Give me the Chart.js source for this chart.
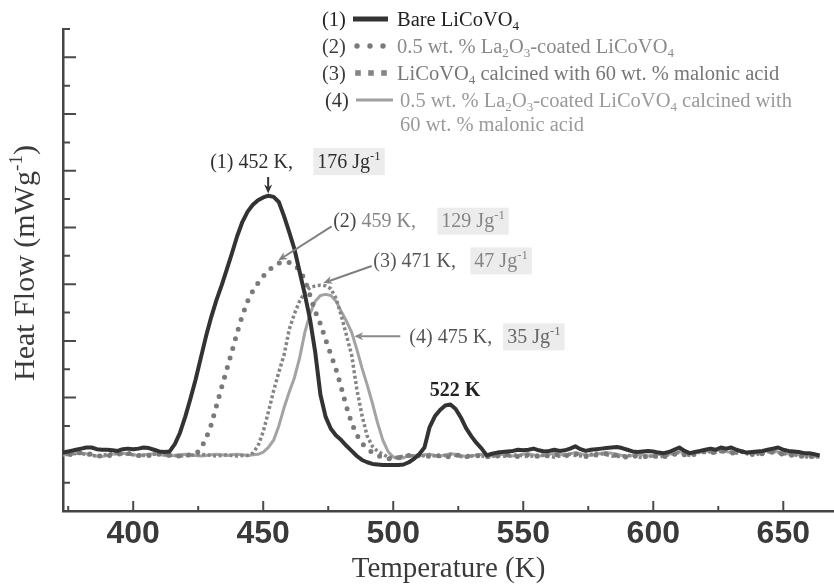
<!DOCTYPE html>
<html>
<head>
<meta charset="utf-8">
<title>DSC heat flow of LiCoVO4 samples</title>
<script src="https://cdn.jsdelivr.net/npm/chart.js@4.4.1/dist/chart.umd.min.js"></script>
<style>
  html, body { margin: 0; padding: 0; background: #fff; }
  #wrap { width: 834px; height: 587px; position: relative; }
</style>
</head>
<body>
<div id="wrap"><canvas id="chart"></canvas></div>
<script>
// temperature (K), sampled every 2 K
const temperature = [
  372, 374, 376, 378, 380, 382, 384, 386, 388, 390,
  392, 394, 396, 398, 400, 402, 404, 406, 408, 410,
  412, 414, 416, 418, 420, 422, 424, 426, 428, 430,
  432, 434, 436, 438, 440, 442, 444, 446, 448, 450,
  452, 454, 456, 458, 460, 462, 464, 466, 468, 470,
  472, 474, 476, 478, 480, 482, 484, 486, 488, 490,
  492, 494, 496, 498, 500, 502, 504, 506, 508, 510,
  512, 514, 516, 518, 520, 522, 524, 526, 528, 530,
  532, 534, 536, 538, 540, 542, 544, 546, 548, 550,
  552, 554, 556, 558, 560, 562, 564, 566, 568, 570,
  572, 574, 576, 578, 580, 582, 584, 586, 588, 590,
  592, 594, 596, 598, 600, 602, 604, 606, 608, 610,
  612, 614, 616, 618, 620, 622, 624, 626, 628, 630,
  632, 634, 636, 638, 640, 642, 644, 646, 648, 650,
  652, 654, 656, 658, 660, 662, 664
];

// (1) bare LiCoVO4
const bareLiCoVO4 = [
  0.02, 0.04, 0.06, 0.08, 0.10, 0.12, 0.12, 0.09, 0.08, 0.08,
  0.07, 0.06, 0.09, 0.10, 0.09, 0.10, 0.12, 0.11, 0.08, 0.05,
  0.04, 0.05, 0.18, 0.38, 0.66, 0.98, 1.32, 1.70, 2.08, 2.42,
  2.72, 2.98, 3.26, 3.55, 3.85, 4.10, 4.28, 4.40, 4.48, 4.53,
  4.56, 4.54, 4.45, 4.20, 3.92, 3.62, 3.22, 2.82, 2.38, 1.80,
  1.05, 0.66, 0.45, 0.33, 0.25, 0.15, 0.06, -0.03, -0.10, -0.14,
  -0.17, -0.18, -0.19, -0.19, -0.19, -0.19, -0.18, -0.14, -0.08, 0.00,
  0.12, 0.48, 0.67, 0.78, 0.86, 0.88, 0.80, 0.65, 0.46, 0.32,
  0.20, 0.10, -0.02, 0.01, 0.03, 0.04, 0.05, 0.06, 0.08, 0.07,
  0.08, 0.10, 0.07, 0.05, 0.06, 0.08, 0.06, 0.07, 0.10, 0.14,
  0.09, 0.06, 0.08, 0.09, 0.10, 0.11, 0.12, 0.13, 0.11, 0.08,
  0.05, 0.04, 0.05, 0.06, 0.05, 0.03, 0.02, 0.04, 0.08, 0.12,
  0.06, 0.02, 0.04, 0.06, 0.08, 0.10, 0.08, 0.12, 0.10, 0.12,
  0.08, 0.05, 0.03, 0.04, 0.05, 0.06, 0.08, 0.10, 0.12, 0.08,
  0.06, 0.05, 0.04, 0.02, 0.02, 0.00, -0.02
];

// (2) 0.5 wt.% La2O3-coated LiCoVO4
const coatedLiCoVO4 = [
  -0.04, -0.02, 0.00, 0.02, 0.03, 0.02, 0.00, -0.02, -0.04, -0.03,
  -0.01, 0.00, 0.02, 0.02, 0.00, -0.02, -0.03, -0.02, -0.01, 0.00,
  -0.01, -0.02, -0.03, -0.03, -0.02, -0.01, 0.00, 0.10, 0.28, 0.52,
  0.85, 1.18, 1.50, 1.82, 2.15, 2.45, 2.70, 2.88, 3.02, 3.14,
  3.24, 3.32, 3.37, 3.39, 3.38, 3.35, 3.24, 3.08, 2.80, 2.52,
  2.30, 2.02, 1.76, 1.50, 1.18, 0.84, 0.55, 0.34, 0.19, 0.10,
  0.03, -0.02, -0.06, -0.08, -0.08, -0.06, -0.04, -0.02, 0.00, -0.02,
  -0.04, -0.03, -0.02, -0.03, -0.05, -0.04, -0.02, -0.01, -0.03, -0.04,
  -0.03, -0.02, -0.04, -0.05, -0.03, -0.02, -0.01, -0.03, -0.04, -0.02,
  -0.01, -0.02, -0.04, -0.03, -0.02, 0.00, -0.02, -0.03, -0.01, 0.01,
  -0.02, -0.04, -0.03, -0.01, 0.00, 0.01, 0.00, -0.02, -0.04, -0.05,
  -0.04, -0.02, -0.03, -0.05, -0.04, -0.02, -0.04, -0.03, 0.00, 0.02,
  -0.01, -0.03, 0.00, 0.03, 0.05, 0.02, 0.04, 0.06, 0.04, 0.02,
  0.03, 0.05, 0.02, 0.00, -0.01, 0.01, 0.03, 0.04, 0.02, 0.00,
  -0.01, -0.02, -0.03, -0.04, -0.03, -0.05, -0.06
];

// (3) LiCoVO4 calcined with 60 wt.% malonic acid
const malonicLiCoVO4 = [
  -0.03, -0.01, 0.01, 0.02, 0.01, 0.00, -0.02, -0.03, -0.02, 0.00,
  0.01, 0.02, 0.01, 0.00, -0.01, -0.03, -0.02, -0.01, 0.00, 0.01,
  0.00, -0.01, -0.02, -0.03, -0.02, -0.02, -0.01, 0.00, -0.01, -0.02,
  -0.03, -0.02, -0.01, -0.02, -0.03, -0.02, -0.02, 0.02, 0.15, 0.40,
  0.75, 1.12, 1.45, 1.75, 2.20, 2.48, 2.70, 2.86, 2.94, 2.97,
  2.98, 2.97, 2.92, 2.75, 2.45, 2.10, 1.75, 1.15, 0.68, 0.32,
  0.14, 0.05, 0.00, -0.05, -0.06, -0.05, -0.03, -0.02, -0.03, -0.04,
  -0.02, -0.01, -0.03, -0.04, -0.02, 0.00, -0.02, -0.04, -0.05, -0.03,
  -0.02, -0.03, -0.05, -0.04, -0.02, -0.03, -0.04, -0.02, -0.01, -0.03,
  -0.04, -0.03, -0.01, -0.02, -0.04, -0.05, -0.03, -0.01, 0.00, -0.02,
  -0.03, -0.02, 0.00, 0.02, 0.01, -0.01, -0.03, -0.04, -0.03, -0.02,
  -0.03, -0.05, -0.06, -0.04, -0.03, -0.05, -0.03, -0.01, 0.02, 0.03,
  0.00, -0.02, 0.01, 0.04, 0.03, 0.05, 0.03, 0.05, 0.07, 0.04,
  0.02, 0.04, 0.01, -0.01, 0.00, 0.02, 0.04, 0.05, 0.03, 0.01,
  0.00, -0.01, -0.02, -0.04, -0.05, -0.04, -0.05
];

// (4) 0.5 wt.% La2O3-coated LiCoVO4 calcined with 60 wt.% malonic acid
const coatedMalonicLiCoVO4 = [
  -0.02, 0.00, 0.01, 0.03, 0.02, 0.01, -0.01, -0.03, -0.04, -0.02,
  0.00, 0.01, 0.02, 0.01, -0.01, -0.02, -0.01, 0.00, 0.01, 0.00,
  -0.02, -0.03, -0.02, -0.01, 0.00, -0.01, -0.02, -0.03, -0.02, -0.01,
  0.00, -0.01, -0.02, -0.01, 0.00, -0.01, -0.02, -0.01, 0.00, 0.04,
  0.12, 0.25, 0.50, 0.82, 1.10, 1.35, 1.70, 2.15, 2.48, 2.70,
  2.80, 2.82, 2.80, 2.70, 2.52, 2.35, 2.15, 1.85, 1.52, 1.22,
  0.90, 0.55, 0.25, 0.05, -0.05, -0.08, -0.06, -0.03, -0.02, -0.03,
  -0.01, 0.00, -0.02, -0.03, -0.01, 0.01, 0.00, -0.02, -0.04, -0.03,
  -0.01, 0.00, -0.02, -0.03, -0.01, 0.00, -0.02, -0.03, -0.02, 0.00,
  0.01, -0.01, -0.03, -0.02, 0.00, 0.02, 0.00, -0.02, 0.01, 0.03,
  0.01, -0.01, -0.02, 0.00, 0.02, 0.03, 0.02, 0.00, -0.02, -0.03,
  -0.02, 0.00, -0.01, -0.03, -0.02, 0.00, -0.01, 0.00, 0.03, 0.05,
  0.02, 0.00, 0.02, 0.05, 0.06, 0.04, 0.06, 0.08, 0.05, 0.03,
  0.04, 0.06, 0.03, 0.01, 0.02, 0.04, 0.06, 0.07, 0.04, 0.02,
  0.01, 0.00, -0.01, -0.03, -0.02, -0.04, -0.05
];

const tempTicks = [400, 450, 500, 550, 600, 650];
const tempMinorTicks = [375, 425, 475, 525, 575, 625];

const SERIF = "\"Liberation Serif\", \"Times New Roman\", serif";
const SANS = "\"Liberation Sans\", Arial, sans-serif";

// peak labels, anchored in data space (K, heat flow units)
const peakNotes = [
  {
    label: [["(1) 452 K,", "#2e2e2e"]],
    energy: [["176 Jg", "#2e2e2e"], ["-1", "#2e2e2e", "sup"]],
    at: [429.6, 5.17],
    energyAt: 470.8,
    arrow: [[451.9, 4.89], [451.9, 4.6]],
    arrowColor: "#333333"
  },
  {
    label: [["(2) ", "#444444"], ["459 K,", "#858585"]],
    energy: [["129 Jg", "#858585"], ["-1", "#858585", "sup"]],
    at: [476.9, 4.12],
    energyAt: 518.5,
    arrow: [[476.3, 4.02], [455.8, 3.42]],
    arrowColor: "#808080"
  },
  {
    label: [["(3) 471 K,", "#555555"]],
    energy: [["47 Jg", "#858585"], ["-1", "#858585", "sup"]],
    at: [492.3, 3.42],
    energyAt: 531.2,
    arrow: [[491.7, 3.32], [473.1, 3.02]],
    arrowColor: "#808080"
  },
  {
    label: [["(4) 475 K,", "#555555"]],
    energy: [["35 Jg", "#666666"], ["-1", "#666666", "sup"]],
    at: [506.2, 2.08],
    energyAt: 543.8,
    arrow: [[502.7, 2.08], [485.0, 2.08]],
    arrowColor: "#8a8a8a"
  }
];

const legendRows = [
  {num: "(1)", numColor: "#222222", mark: "solid", text: [["Bare LiCoVO", "#222222"], ["4", "#222222", "sub"]]},
  {num: "(2)", numColor: "#3c3c3c", mark: "dots", text: [["0.5 wt. % La", "#8a8a8a"], ["2", "#8a8a8a", "sub"], ["O", "#8a8a8a"], ["3", "#8a8a8a", "sub"], ["-coated LiCoVO", "#8a8a8a"], ["4", "#8a8a8a", "sub"]]},
  {num: "(3)", numColor: "#3c3c3c", mark: "squares", text: [["LiCoVO", "#777777"], ["4", "#777777", "sub"], [" calcined with 60 wt. % malonic acid", "#777777"]]},
  {num: "(4)", numColor: "#333333", mark: "light", text: [["0.5 wt. % La", "#9a9a9a"], ["2", "#9a9a9a", "sub"], ["O", "#9a9a9a"], ["3", "#9a9a9a", "sub"], ["-coated LiCoVO", "#9a9a9a"], ["4", "#9a9a9a", "sub"], [" calcined with", "#9a9a9a"]]},
  {num: "", mark: "", text: [["60 wt. % malonic acid", "#9a9a9a"]]}
];

function drawRuns(ctx, x, cy, runs, size, weight, dry)
{
  const base = cy + size * 0.33;
  let cx = x;
  for (const [text, color, mode] of runs)
  {
    const s = mode ? size * 0.64 : size;
    ctx.font = `${weight || "normal"} ${s}px ${SERIF}`;
    let by = base;
    if (mode === "sub")
      by = base + size * 0.2;
    if (mode === "sup")
      by = base - size * 0.4;
    if (!dry)
    {
      ctx.fillStyle = color;
      ctx.fillText(text, cx, by);
    }
    cx += ctx.measureText(text).width;
  }
  return cx - x;
}

function drawArrow(ctx, x0, y0, x1, y1, color)
{
  const ang = Math.atan2(y1 - y0, x1 - x0);
  const cos = Math.cos(ang);
  const sin = Math.sin(ang);
  const head = 9;
  const half = 4;
  ctx.strokeStyle = color;
  ctx.fillStyle = color;
  ctx.lineWidth = 2;
  ctx.beginPath();
  ctx.moveTo(x0, y0);
  ctx.lineTo(x1 - cos * head * 0.7, y1 - sin * head * 0.7);
  ctx.stroke();
  ctx.beginPath();
  ctx.moveTo(x1, y1);
  ctx.lineTo(x1 - head * cos - half * sin, y1 - head * sin + half * cos);
  ctx.lineTo(x1 - head * cos * 0.7, y1 - head * sin * 0.7);
  ctx.lineTo(x1 - head * cos + half * sin, y1 - head * sin - half * cos);
  ctx.closePath();
  ctx.fill();
}

// ticks pointing into the plot, as in the original figure
const innerTicks = {
  id: "innerTicks",
  beforeDatasetsDraw(chart)
  {
    const {ctx, chartArea, scales: {x, y}} = chart;
    ctx.save();
    ctx.strokeStyle = "#4a4a4a";
    ctx.lineWidth = 2;
    ctx.beginPath();
    for (const t of tempTicks)
    {
      const px = x.getPixelForValue(t);
      ctx.moveTo(px, chartArea.bottom);
      ctx.lineTo(px, chartArea.bottom - 10);
    }
    for (const t of tempMinorTicks)
    {
      const px = x.getPixelForValue(t);
      ctx.moveTo(px, chartArea.bottom);
      ctx.lineTo(px, chartArea.bottom - 5);
    }
    for (const tick of y.ticks)
    {
      if (tick.value <= y.min)
        continue;
      const py = y.getPixelForValue(tick.value);
      const len = Number.isInteger(tick.value) ? 13 : 7;
      ctx.moveTo(chartArea.left, py);
      ctx.lineTo(chartArea.left + len, py);
    }
    ctx.stroke();
    ctx.restore();
  }
};

const notes = {
  id: "notes",
  afterDraw(chart)
  {
    const {ctx, scales: {x, y}} = chart;
    ctx.save();
    ctx.textBaseline = "alphabetic";
    ctx.textAlign = "left";

    // y axis title
    ctx.save();
    ctx.translate(26, 263);
    ctx.rotate(-Math.PI / 2);
    const yTitle = [["Heat Flow (mWg", "#3a3a3a"], ["-1", "#3a3a3a", "sup"], [")", "#3a3a3a"]];
    const yw = drawRuns(ctx, 0, 0, yTitle, 30, "normal", true);
    drawRuns(ctx, -yw / 2, -2, yTitle, 30);
    ctx.restore();

    // peak annotations
    for (const note of peakNotes)
    {
      const lx = x.getPixelForValue(note.at[0]);
      const ly = y.getPixelForValue(note.at[1]);
      drawRuns(ctx, lx, ly, note.label, 20);
      const ex = x.getPixelForValue(note.energyAt);
      const ew = drawRuns(ctx, ex, ly, note.energy, 20, "normal", true);
      ctx.fillStyle = "#ececec";
      ctx.fillRect(ex - 4, ly - 13, ew + 8, 27);
      drawRuns(ctx, ex, ly, note.energy, 20);
      const [from, to] = note.arrow;
      drawArrow(ctx, x.getPixelForValue(from[0]), y.getPixelForValue(from[1]),
        x.getPixelForValue(to[0]), y.getPixelForValue(to[1]), note.arrowColor);
    }

    // second peak of bare sample
    const pk = [["522 K", "#222222"]];
    const pw = drawRuns(ctx, 0, 0, pk, 20, "bold", true);
    drawRuns(ctx, x.getPixelForValue(523.8) - pw / 2, y.getPixelForValue(1.15), pk, 20, "bold");

    // legend
    const rowY = [19, 46, 73, 100, 124];
    legendRows.forEach((row, i) =>
    {
      const cy = rowY[i];
      const shift = i >= 3 ? 3 : 0;
      if (row.num)
        drawRuns(ctx, 322 + shift, cy, [[row.num, row.numColor]], 20.5);
      if (row.mark === "solid")
      {
        ctx.fillStyle = "#333333";
        ctx.fillRect(353, cy - 2.5, 35, 5);
      }
      else if (row.mark === "dots")
      {
        ctx.fillStyle = "#7a7a7a";
        for (const dx of [357, 370, 383])
        {
          ctx.beginPath();
          ctx.arc(dx, cy, 2.7, 0, Math.PI * 2);
          ctx.fill();
        }
      }
      else if (row.mark === "squares")
      {
        ctx.fillStyle = "#858585";
        for (const dx of [358, 371, 384])
          ctx.fillRect(dx - 2.8, cy - 2.8, 5.6, 5.6);
      }
      else if (row.mark === "light")
      {
        ctx.fillStyle = "#a0a0a0";
        ctx.fillRect(356, cy - 1.5, 37, 3);
      }
      drawRuns(ctx, 397 + shift, cy, row.text, 20.5);
    });
    ctx.restore();
  }
};

function series(values)
{
  return temperature.map((t, i) => ({x: t, y: values[i]}));
}

new Chart(document.getElementById("chart"), {
  type: "line",
  data: {
    datasets: [
      {
        label: "Bare LiCoVO4",
        data: series(bareLiCoVO4),
        borderColor: "#333333",
        borderWidth: 4,
        borderJoinStyle: "round"
      },
      {
        label: "0.5 wt.% La2O3-coated LiCoVO4",
        data: series(coatedLiCoVO4),
        borderColor: "#7a7a7a",
        borderWidth: 5,
        borderDash: [0, 10],
        borderCapStyle: "round"
      },
      {
        label: "LiCoVO4 calcined with 60 wt.% malonic acid",
        data: series(malonicLiCoVO4),
        borderColor: "#858585",
        borderWidth: 3.5,
        borderDash: [3, 2.5]
      },
      {
        label: "0.5 wt.% La2O3-coated LiCoVO4 calcined with 60 wt.% malonic acid",
        data: series(coatedMalonicLiCoVO4),
        borderColor: "#a3a3a3",
        borderWidth: 3,
        borderJoinStyle: "round"
      }
    ]
  },
  options: {
    responsive: true,
    maintainAspectRatio: false,
    animation: false,
    devicePixelRatio: 1,
    layout: {padding: {top: 29, right: 0, left: 0, bottom: 0}},
    elements: {point: {radius: 0}, line: {tension: 0}},
    plugins: {
      legend: {display: false},
      tooltip: {enabled: false}
    },
    scales: {
      x: {
        type: "linear",
        min: 373,
        max: 669.5,
        afterBuildTicks: (scale) =>
        {
          scale.ticks = tempTicks.map((v) => ({value: v}));
        },
        afterFit: (scale) =>
        {
          scale.height = 76;
        },
        grid: {drawOnChartArea: false, drawTicks: false},
        border: {display: true, color: "#444444", width: 2.5},
        ticks: {
          padding: 4,
          color: "#3a3a3a",
          font: {family: SANS, size: 32, weight: "bold"}
        },
        title: {
          display: true,
          text: "Temperature (K)",
          color: "#3a3a3a",
          padding: {top: 0, bottom: 0},
          font: {family: SERIF, size: 29}
        }
      },
      y: {
        type: "linear",
        min: -1,
        max: 7.5,
        afterFit: (scale) =>
        {
          scale.width = 63;
        },
        grid: {drawOnChartArea: false, drawTicks: false},
        border: {display: true, color: "#444444", width: 2.5},
        ticks: {display: false, stepSize: 0.5}
      }
    }
  },
  plugins: [innerTicks, notes]
});
</script>
</body>
</html>
